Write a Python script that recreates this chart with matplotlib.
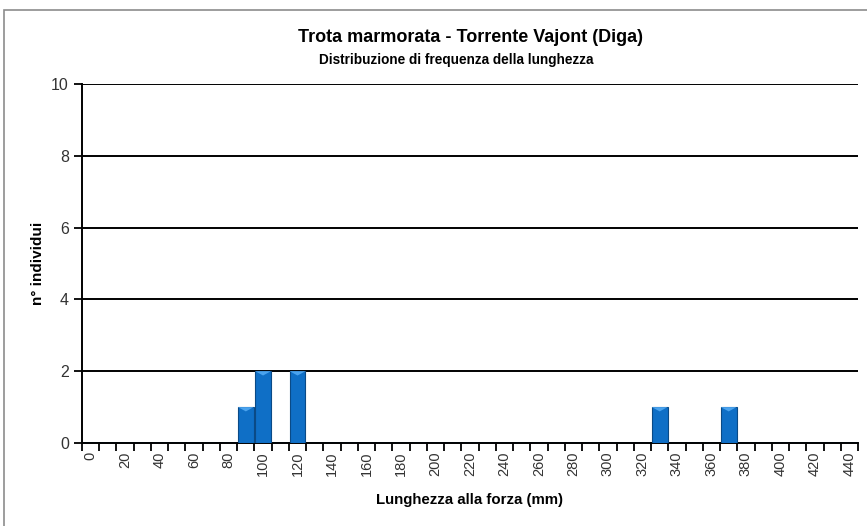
import matplotlib
matplotlib.use("Agg")
import matplotlib.pyplot as plt
import numpy as np
from matplotlib.patches import Rectangle

categories = list(range(0, 450, 10))
counts = [0]*len(categories)
values = {90: 1, 100: 2, 120: 2, 330: 1, 370: 1}
for k, v in values.items():
    counts[categories.index(k)] = v

title = "Trota marmorata - Torrente Vajont (Diga)"
subtitle = "Distribuzione di frequenza della lunghezza"
xlabel = "Lunghezza alla forza (mm)"
ylabel = "n° individui"

plt.rcParams['font.family'] = ['Liberation Sans', 'DejaVu Sans']

W, H = 867, 526
fig = plt.figure(figsize=(W/100, H/100), dpi=100)
fig.patches.append(Rectangle((4/W, -0.1), 1.2, 1.1 - 10/H, transform=fig.transFigure,
                             fill=False, edgecolor='#8c8c8c', linewidth=1.2))

ax = fig.add_axes([82/W, 1-443/H, (858-82)/W, (443-84)/H])
x = np.arange(len(categories))
ax.bar(x, counts, width=0.92, color='#0f6fc6', edgecolor='#0a4a86', linewidth=0.8, zorder=3)
# bevel highlight on top
for xi, c in zip(x, counts):
    if c > 0:
        ax.fill([xi-0.46, xi+0.46, xi], [c, c, c-0.12], color='#4aa3ee', zorder=4, linewidth=0)

ax.set_xlim(-0.5, len(categories)-0.5)
ax.set_ylim(0, 10)
ax.set_yticks(range(0, 11, 2))
ax.yaxis.grid(True, color='black', linewidth=1.4, zorder=0)
ax.set_axisbelow(True)
for s in ['top', 'right']:
    ax.spines[s].set_visible(False)
ax.spines['left'].set_linewidth(1.4)
ax.spines['bottom'].set_linewidth(1.4)

ax.set_xticks(x[::2])
ax.set_xticklabels([str(c) for c in categories[::2]], rotation=90, fontsize=10.5, color='#333333')
ax.set_xticks(np.arange(-0.5, len(categories), 1), minor=True)
ax.tick_params(axis='x', which='major', length=0, pad=6)
ax.tick_params(axis='x', which='minor', length=6, width=1.3, direction='out')
ax.tick_params(axis='y', length=6, width=1.3, labelsize=11.5, colors='black', labelcolor='#333333')

ax.set_xlabel(xlabel, fontsize=10.8, fontweight='bold', labelpad=12)
ax.set_ylabel(ylabel, fontsize=11, fontweight='bold', labelpad=4)

fig.text(470/W, 1-38/H, title, ha='center', va='center', fontsize=13, fontweight='bold')
fig.text(456/W, 1-60/H, subtitle, ha='center', va='center', fontsize=9.8, fontweight='bold')

fig.savefig("out.png", dpi=100)
